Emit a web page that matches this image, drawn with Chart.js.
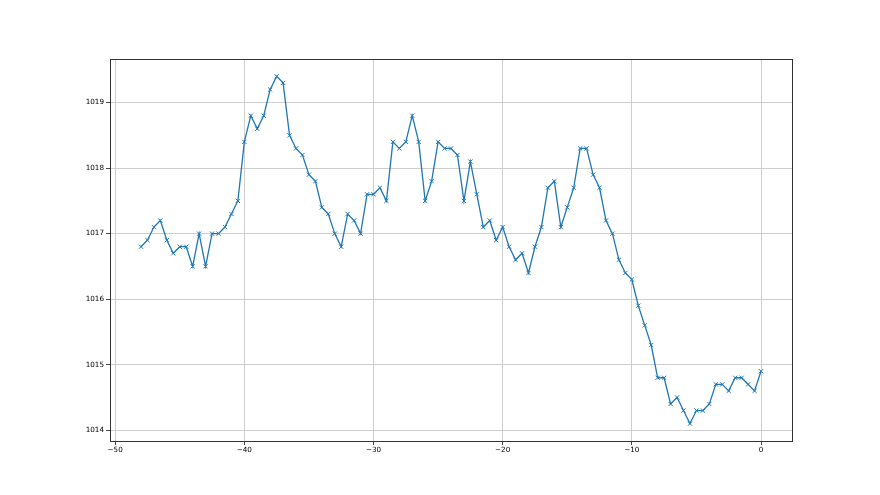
<!DOCTYPE html>
<html>
<head>
<meta charset="utf-8">
<script src="https://cdn.jsdelivr.net/npm/chart.js@4/dist/chart.umd.min.js"></script>
<style>
  html, body { margin: 0; padding: 0; background: #fff; }
  #wrap { width: 880px; height: 495px; position: relative; }
</style>
</head>
<body>
<div id="wrap"><canvas id="pressureChart"></canvas></div>
<script>
// hours relative to now, one reading every half hour
const hours = [
  -48, -47.5, -47, -46.5, -46, -45.5, -45, -44.5, -44, -43.5, -43, -42.5, -42, -41.5, -41, -40.5,
  -40, -39.5, -39, -38.5, -38, -37.5, -37, -36.5, -36, -35.5, -35, -34.5, -34, -33.5, -33, -32.5,
  -32, -31.5, -31, -30.5, -30, -29.5, -29, -28.5, -28, -27.5, -27, -26.5, -26, -25.5, -25, -24.5,
  -24, -23.5, -23, -22.5, -22, -21.5, -21, -20.5, -20, -19.5, -19, -18.5, -18, -17.5, -17, -16.5,
  -16, -15.5, -15, -14.5, -14, -13.5, -13, -12.5, -12, -11.5, -11, -10.5, -10, -9.5, -9, -8.5,
  -8, -7.5, -7, -6.5, -6, -5.5, -5, -4.5, -4, -3.5, -3, -2.5, -2, -1.5, -1, -0.5, 0
];

const pressure = [
  1016.8, 1016.9, 1017.1, 1017.2, 1016.9, 1016.7, 1016.8, 1016.8, 1016.5, 1017.0, 1016.5, 1017.0, 1017.0, 1017.1, 1017.3, 1017.5,
  1018.4, 1018.8, 1018.6, 1018.8, 1019.2, 1019.4, 1019.3, 1018.5, 1018.3, 1018.2, 1017.9, 1017.8, 1017.4, 1017.3, 1017.0, 1016.8,
  1017.3, 1017.2, 1017.0, 1017.6, 1017.6, 1017.7, 1017.5, 1018.4, 1018.3, 1018.4, 1018.8, 1018.4, 1017.5, 1017.8, 1018.4, 1018.3,
  1018.3, 1018.2, 1017.5, 1018.1, 1017.6, 1017.1, 1017.2, 1016.9, 1017.1, 1016.8, 1016.6, 1016.7, 1016.4, 1016.8, 1017.1, 1017.7,
  1017.8, 1017.1, 1017.4, 1017.7, 1018.3, 1018.3, 1017.9, 1017.7, 1017.2, 1017.0, 1016.6, 1016.4, 1016.3, 1015.9, 1015.6, 1015.3,
  1014.8, 1014.8, 1014.4, 1014.5, 1014.3, 1014.1, 1014.3, 1014.3, 1014.4, 1014.7, 1014.7, 1014.6, 1014.8, 1014.8, 1014.7, 1014.6, 1014.9
];

const xTicks = [-50, -40, -30, -20, -10, 0];
const yTicks = [1014, 1015, 1016, 1017, 1018, 1019];

const points = hours.map((h, i) => ({ x: h, y: pressure[i] }));

// matplotlib style full box around the axes
const frame = {
  id: 'frame',
  afterDraw(chart) {
    const a = chart.chartArea;
    const c = chart.ctx;
    c.save();
    c.strokeStyle = '#333';
    c.lineWidth = 1;
    c.strokeRect(Math.round(a.left) + 0.5, Math.round(a.top) + 0.5,
                 Math.round(a.right - a.left), Math.round(a.bottom - a.top));
    c.restore();
  }
};

const tickFont = { family: 'DejaVu Sans', size: 7.2 };

new Chart(document.getElementById('pressureChart'), {
  type: 'scatter',
  data: {
    datasets: [{
      data: points,
      showLine: true,
      borderColor: '#1f77b4',
      backgroundColor: '#1f77b4',
      borderWidth: 1.3,
      pointStyle: 'crossRot',
      pointRadius: 3,
      pointBorderWidth: 1,
      pointHoverRadius: 3,
      tension: 0
    }]
  },
  options: {
    responsive: true,
    maintainAspectRatio: false,
    animation: false,
    events: [],
    layout: { padding: { left: 0, top: 59, right: 88, bottom: 0 } },
    plugins: { legend: { display: false }, tooltip: { enabled: false } },
    scales: {
      x: {
        type: 'linear',
        min: -50.4,
        max: 2.4,
        afterFit(s) { s.height = 54; },
        afterBuildTicks(s) { s.ticks = xTicks.map(v => ({ value: v })); },
        grid: { color: '#c8c8c8', lineWidth: 0.9, tickColor: '#333', tickLength: 4 },
        border: { display: false },
        ticks: {
          color: '#000',
          font: tickFont,
          padding: 1,
          maxRotation: 0,
          callback: v => (v < 0 ? '\u2212' + Math.abs(v) : String(v))
        }
      },
      y: {
        type: 'linear',
        min: 1013.835,
        max: 1019.665,
        afterFit(s) { s.width = 110; },
        afterBuildTicks(s) { s.ticks = yTicks.map(v => ({ value: v })); },
        grid: { color: '#c8c8c8', lineWidth: 0.9, tickColor: '#333', tickLength: 4 },
        border: { display: false },
        ticks: {
          color: '#000',
          font: tickFont,
          padding: 2,
          callback: v => String(v)
        }
      }
    }
  },
  plugins: [frame]
});
</script>
</body>
</html>
